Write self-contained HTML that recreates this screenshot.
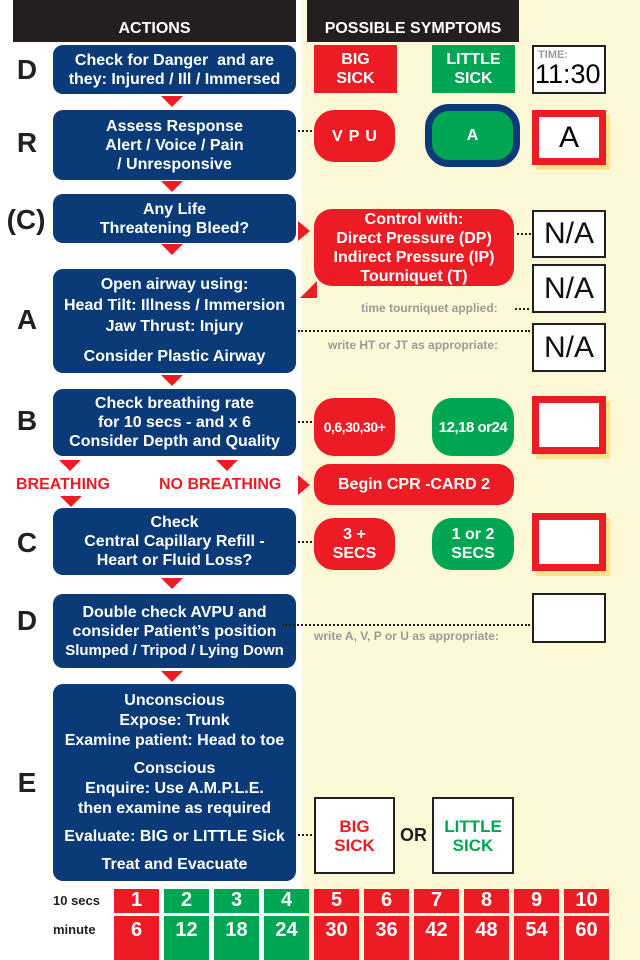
<!DOCTYPE html>
<html><head><meta charset="utf-8"><style>
*{margin:0;padding:0;box-sizing:border-box}
body{width:640px;height:960px;position:relative;overflow:hidden;background:#fff;font-family:"Liberation Sans",Arial,sans-serif;font-weight:bold}
.a{position:absolute}
.yel{left:302px;top:0;width:338px;height:960px;background:#fdf9d6}
.hd{background:#231f20;color:#fff;font-size:16px;text-align:center;padding-top:20px;height:42px}
.bb{position:absolute;left:53px;width:243px;background:#0a3a78;border-radius:10px;color:#fff;text-align:center;font-size:16px;line-height:19px;display:flex;flex-direction:column;justify-content:center}
.lt{position:absolute;left:12px;font-size:28px;color:#231f20;width:30px;text-align:center}
.tri{position:absolute;width:0;height:0;border-left:11px solid transparent;border-right:11px solid transparent;border-top:11px solid #ed1c24}
.red{background:#ed1c24}.grn{background:#00a651}
.pill{position:absolute;color:#fff;text-align:center;font-size:16px;line-height:19px;display:flex;flex-direction:column;justify-content:center;border-radius:18px;white-space:nowrap}
.wb{position:absolute;background:#fff;border:2px solid #231f20;text-align:center;font-weight:normal;font-size:30px;color:#111;display:flex;align-items:center;justify-content:center}
.rb{position:absolute;left:532px;width:74px;background:#ed1c24;box-shadow:4px 5px 0 #fde28a;padding:7px}
.rb div{background:#fff;width:100%;height:100%;font-weight:normal;font-size:30px;text-align:center;display:flex;align-items:center;justify-content:center}
.dot{position:absolute;border-top:2px dotted #231f20;height:0}
.gt{position:absolute;color:#9a9a9a;font-size:12px}
.c{position:absolute;width:45px;color:#fff;text-align:center;font-size:20px}
</style></head><body>
<div class="a yel"></div>
<div class="a hd" style="left:13px;top:0;width:283px">ACTIONS</div>
<div class="a hd" style="left:307px;top:0;width:212px">POSSIBLE SYMPTOMS</div>

<div class="lt" style="top:54px">D</div>
<div class="bb" style="top:45px;height:49px">Check for Danger&nbsp; and are<br>they: Injured / Ill / Immersed</div>
<div class="tri" style="left:161px;top:96px"></div>
<div class="lt" style="top:127px">R</div>
<div class="bb" style="top:110px;height:70px">Assess Response<br>Alert / Voice / Pain<br>/ Unresponsive</div>
<div class="tri" style="left:161px;top:181px"></div>
<div class="lt" style="top:204px;left:6px;width:40px">(C)</div>
<div class="bb" style="top:194px;height:49px">Any Life<br>Threatening Bleed?</div>
<div class="tri" style="left:161px;top:244px"></div>
<div class="lt" style="top:304px">A</div>
<div class="bb" style="top:269px;height:104px;line-height:20px">Open airway using:<br><span style="line-height:22px">Head Tilt: Illness / Immersion</span>Jaw Thrust: Injury<br><span style="margin-top:10px">Consider Plastic Airway</span></div>
<div class="tri" style="left:161px;top:375px"></div>
<div class="lt" style="top:405px">B</div>
<div class="bb" style="top:389px;height:67px">Check breathing rate<br>for 10 secs - and x 6<br>Consider Depth and Quality</div>
<div class="tri" style="left:59px;top:460px"></div>
<div class="tri" style="left:216px;top:460px"></div>
<div class="a" style="left:16px;top:476px;color:#ed1c24;font-size:16px">BREATHING</div>
<div class="a" style="left:159px;top:476px;color:#ed1c24;font-size:16px">NO BREATHING</div>
<div class="a" style="left:298px;top:475px;width:0;height:0;border-top:10px solid transparent;border-bottom:10px solid transparent;border-left:12px solid #ed1c24"></div>
<div class="tri" style="left:60px;top:496px"></div>
<div class="lt" style="top:527px">C</div>
<div class="bb" style="top:508px;height:67px">Check<br>Central Capillary Refill -<br>Heart or Fluid Loss?</div>
<div class="tri" style="left:161px;top:578px"></div>
<div class="lt" style="top:605px">D</div>
<div class="bb" style="top:594px;height:74px">Double check AVPU and<br>consider Patient’s position<br><span style="font-size:15px">Slumped / Tripod / Lying Down</span></div>
<div class="tri" style="left:161px;top:671px"></div>
<div class="lt" style="top:767px">E</div>
<div class="bb" style="top:684px;height:197px;line-height:20px">Unconscious<br>Expose: Trunk<br>Examine patient: Head to toe<br><span style="margin-top:8px">Conscious</span>Enquire: Use A.M.P.L.E.<br>then examine as required<br><span style="margin-top:8px">Evaluate: BIG or LITTLE Sick</span><span style="margin-top:8px">Treat and Evacuate</span></div>

<div class="pill red" style="left:314px;top:45px;width:83px;height:48px;border-radius:0">BIG<br>SICK</div>
<div class="pill grn" style="left:432px;top:45px;width:83px;height:48px;border-radius:0">LITTLE<br>SICK</div>
<div class="a" style="left:532px;top:45px;width:74px;height:49px;background:#fff;border:2px solid #231f20"><div style="font-size:11px;color:#9a9a9a;margin:3px 0 0 4px;line-height:11px">TIME:</div><div style="font-weight:normal;font-size:27px;line-height:26px;margin-left:1px">11:30</div></div>

<div class="dot" style="left:298px;top:130px;width:14px"></div>
<div class="pill red" style="left:314px;top:110px;width:81px;height:52px;border-radius:20px;letter-spacing:6px;padding-left:6px">VPU</div>
<div class="pill grn" style="left:425px;top:104px;width:95px;height:63px;border:7px solid #0a3a78;border-radius:24px">A</div>
<div class="rb" style="top:110px;height:55px"><div>A</div></div>

<div class="a" style="left:298px;top:221px;width:0;height:0;border-top:10px solid transparent;border-bottom:10px solid transparent;border-left:12px solid #ed1c24"></div>
<div class="a" style="left:300px;top:281px;width:0;height:0;border-top:17px solid transparent;border-right:17px solid #ed1c24"></div>
<div class="pill red" style="left:314px;top:209px;width:200px;height:77px;border-radius:18px">Control with:<br>Direct Pressure (DP)<br>Indirect Pressure (IP)<br>Tourniquet (T)</div>
<div class="dot" style="left:517px;top:233px;width:14px"></div>
<div class="wb" style="left:532px;top:210px;width:74px;height:48px">N/A</div>
<div class="gt" style="left:361px;top:301px">time tourniquet applied:</div>
<div class="dot" style="left:515px;top:308px;width:14px"></div>
<div class="wb" style="left:532px;top:264px;width:74px;height:49px">N/A</div>
<div class="dot" style="left:298px;top:330px;width:232px"></div>
<div class="gt" style="left:328px;top:338px">write HT or JT as appropriate:</div>
<div class="wb" style="left:532px;top:323px;width:74px;height:49px">N/A</div>

<div class="dot" style="left:298px;top:421px;width:14px"></div>
<div class="pill red" style="left:314px;top:398px;width:81px;height:58px;border-radius:20px;font-size:14px;letter-spacing:-0.5px">0,6,30,30+</div>
<div class="pill grn" style="left:432px;top:398px;width:82px;height:58px;border-radius:20px;font-size:15px;letter-spacing:-0.5px">12,18 or24</div>
<div class="rb" style="top:396px;height:58px"><div></div></div>
<div class="pill red" style="left:314px;top:464px;width:200px;height:41px;border-radius:16px">Begin CPR -CARD 2</div>

<div class="dot" style="left:298px;top:541px;width:14px"></div>
<div class="pill red" style="left:314px;top:518px;width:81px;height:52px;border-radius:20px">3 +<br>SECS</div>
<div class="pill grn" style="left:432px;top:518px;width:82px;height:52px;border-radius:20px">1 or 2<br>SECS</div>
<div class="rb" style="top:513px;height:58px"><div></div></div>

<div class="dot" style="left:282px;top:624px;width:248px"></div>
<div class="gt" style="left:314px;top:629px">write A, V, P or U as appropriate:</div>
<div class="wb" style="left:532px;top:593px;width:74px;height:50px"></div>

<div class="dot" style="left:298px;top:834px;width:14px"></div>
<div class="wb" style="left:314px;top:797px;width:81px;height:77px;font-weight:bold;font-size:17px;line-height:19px;color:#ed1c24">BIG<br>SICK</div>
<div class="a" style="left:400px;top:825px;font-size:18px;color:#231f20">OR</div>
<div class="wb" style="left:432px;top:797px;width:82px;height:77px;font-weight:bold;font-size:17px;line-height:19px;color:#00a651">LITTLE<br>SICK</div>

<div class="a" style="left:53px;top:893px;font-size:13px;color:#231f20">10 secs</div>
<div class="a" style="left:53px;top:922px;font-size:13px;color:#231f20">minute</div>
<div class="c red" style="left:114px;top:889px;height:24px">1</div><div class="c red" style="left:114px;top:916px;height:44px;line-height:28px">6</div>
<div class="c grn" style="left:164px;top:889px;height:24px">2</div><div class="c grn" style="left:164px;top:916px;height:44px;line-height:28px">12</div>
<div class="c grn" style="left:214px;top:889px;height:24px">3</div><div class="c grn" style="left:214px;top:916px;height:44px;line-height:28px">18</div>
<div class="c grn" style="left:264px;top:889px;height:24px">4</div><div class="c grn" style="left:264px;top:916px;height:44px;line-height:28px">24</div>
<div class="c red" style="left:314px;top:889px;height:24px">5</div><div class="c red" style="left:314px;top:916px;height:44px;line-height:28px">30</div>
<div class="c red" style="left:364px;top:889px;height:24px">6</div><div class="c red" style="left:364px;top:916px;height:44px;line-height:28px">36</div>
<div class="c red" style="left:414px;top:889px;height:24px">7</div><div class="c red" style="left:414px;top:916px;height:44px;line-height:28px">42</div>
<div class="c red" style="left:464px;top:889px;height:24px">8</div><div class="c red" style="left:464px;top:916px;height:44px;line-height:28px">48</div>
<div class="c red" style="left:514px;top:889px;height:24px">9</div><div class="c red" style="left:514px;top:916px;height:44px;line-height:28px">54</div>
<div class="c red" style="left:564px;top:889px;height:24px">10</div><div class="c red" style="left:564px;top:916px;height:44px;line-height:28px">60</div>
</body></html>
